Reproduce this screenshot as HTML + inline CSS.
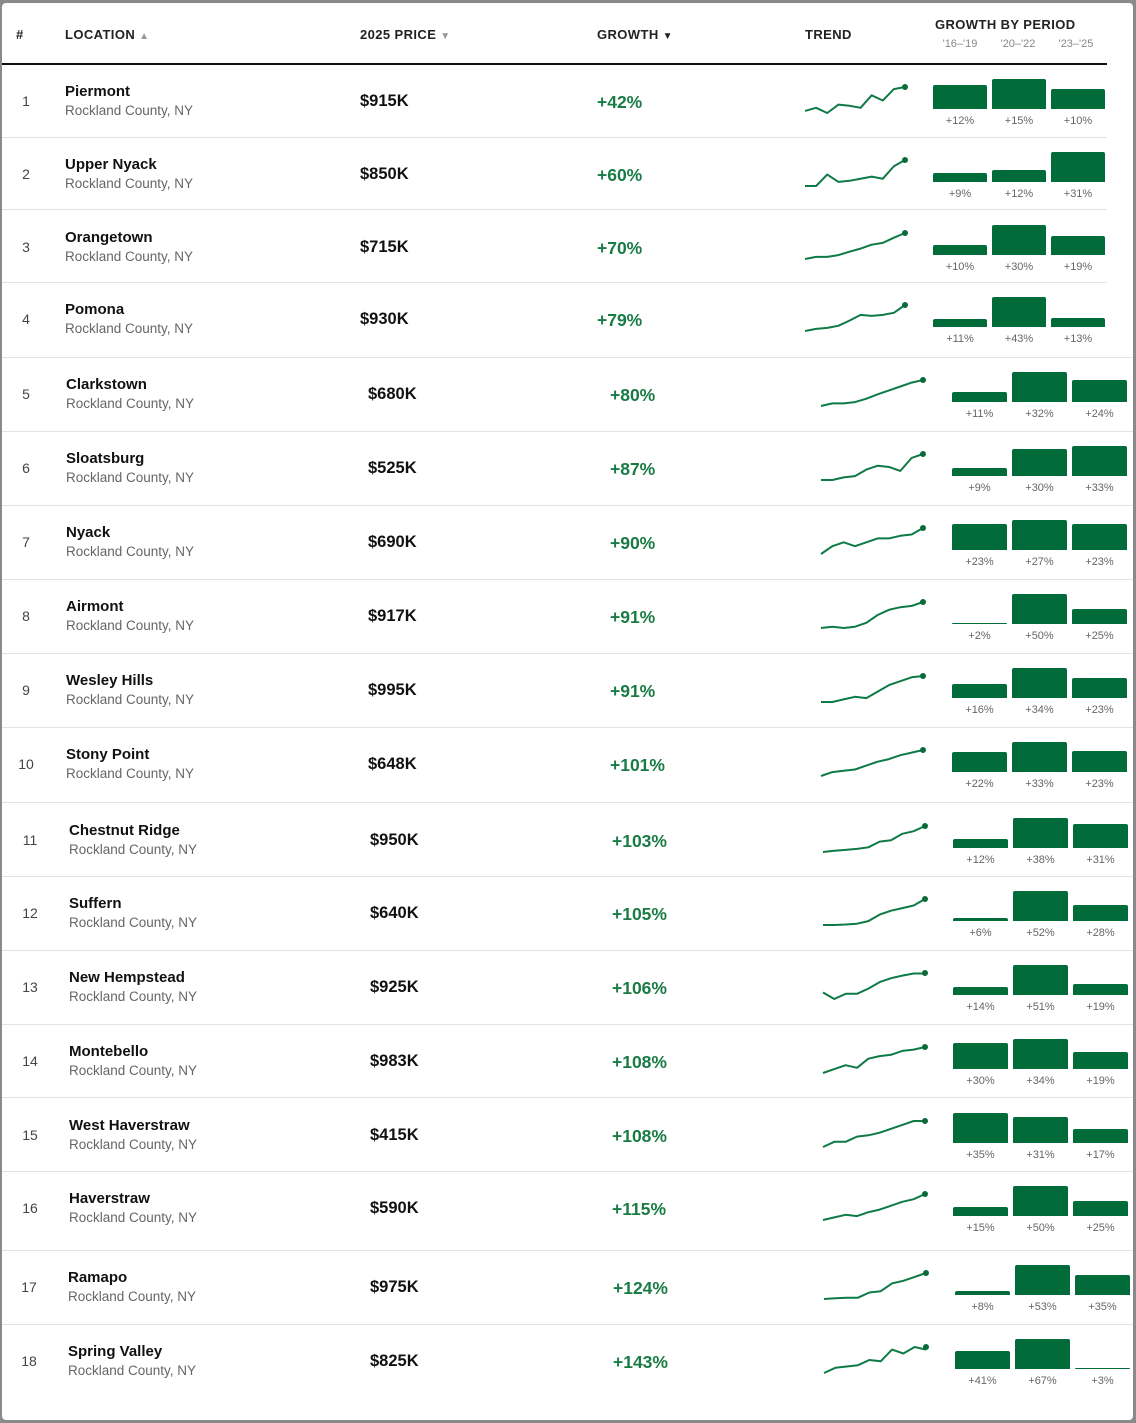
<!DOCTYPE html>
<html><head><meta charset="utf-8"><style>
*{margin:0;padding:0;box-sizing:border-box}
body{width:1136px;height:1423px;background:#8a8a8a;font-family:"Liberation Sans",sans-serif;position:relative;overflow:hidden}
#card{position:absolute;left:2px;top:3px;width:1131px;height:1417px;background:#fff;border-radius:4px}
.h{position:absolute;font-size:13px;font-weight:700;color:#222;letter-spacing:.4px}
.hs{position:absolute;font-size:11px;color:#888;width:50px;text-align:center}
.line{position:absolute;height:1px;background:#e3e3e0}
.r{position:absolute;left:0;width:1136px;height:0}
.r>*{position:absolute}
.n{width:30px;text-align:center;top:0;font-size:14px;color:#444;margin-left:-15px;line-height:16px}
.nm{top:-9px;font-size:15px;font-weight:700;color:#111;line-height:18px;white-space:nowrap}
.sb{top:11px;font-size:13.5px;color:#666;line-height:16px;white-space:nowrap}
.p{top:0;font-size:16.5px;font-weight:700;color:#111;line-height:18px}
.gr{top:1px;font-size:17.5px;font-weight:700;color:#1a7c45;line-height:18px}
.sp{top:-5px;height:26px;overflow:visible}
.sp polyline{fill:none;stroke:#0e7a45;stroke-width:2;vector-effect:non-scaling-stroke;stroke-linejoin:round}
.dot{width:6px;height:6px;border-radius:50%;background:#0a6b3a;top:-8px}
.bars{top:-13px;height:30px;display:flex;align-items:flex-end;gap:5px}
.bars b{display:block;background:#026b3a;border-radius:2px 2px 0 0}
.bl{top:23px;display:flex;gap:5px;font-size:11px;color:#666}
.bl span{display:block;text-align:center}
.g1 .n{left:26px}.g1 .nm,.g1 .sb{left:65px}.g1 .p{left:360px}.g1 .gr{left:597px}.g1 .sp{left:805px;width:100px}.g1 .dot{left:902px}.g1 .bars,.g1 .bl{left:933px}.g1 .bars b,.g1 .bl span{width:54px}
.g2 .n{left:26px}.g2 .nm,.g2 .sb{left:66px}.g2 .p{left:368px}.g2 .gr{left:610px}.g2 .sp{left:821px;width:102px}.g2 .dot{left:920px}.g2 .bars,.g2 .bl{left:952px}.g2 .bars b,.g2 .bl span{width:55px}
.g3 .n{left:30px}.g3 .nm,.g3 .sb{left:69px}.g3 .p{left:370px}.g3 .gr{left:612px}.g3 .sp{left:823px;width:102px}.g3 .dot{left:922px}.g3 .bars,.g3 .bl{left:953px}.g3 .bars b,.g3 .bl span{width:55px}
.g4 .n{left:29px}.g4 .nm,.g4 .sb{left:68px}.g4 .p{left:370px}.g4 .gr{left:613px}.g4 .sp{left:824px;width:102px}.g4 .dot{left:923px}.g4 .bars,.g4 .bl{left:955px}.g4 .bars b,.g4 .bl span{width:55px}
</style></head><body>
<div id="card"></div>
<div class="h" style="left:16px;top:27px">#</div>
<div class="h" style="left:65px;top:27px">LOCATION <span style="color:#999;font-size:10px">▲</span></div>
<div class="h" style="left:360px;top:27px">2025 PRICE <span style="color:#999;font-size:10px">▼</span></div>
<div class="h" style="left:597px;top:27px">GROWTH <span style="font-size:10px">▼</span></div>
<div class="h" style="left:805px;top:27px">TREND</div>
<div class="h" style="left:935px;top:17px">GROWTH BY PERIOD</div>
<div class="hs" style="left:935px;top:38px">'16–'19</div>
<div class="hs" style="left:993px;top:38px">'20–'22</div>
<div class="hs" style="left:1051px;top:38px">'23–'25</div>
<div style="position:absolute;left:2px;top:63px;width:1105px;height:2px;background:#111"></div>

<div class="line" style="left:2px;top:137px;width:1105px"></div>
<div class="line" style="left:2px;top:209px;width:1105px"></div>
<div class="line" style="left:2px;top:282px;width:1105px"></div>
<div class="line" style="left:2px;top:357px;width:1131px"></div>
<div class="line" style="left:2px;top:431px;width:1131px"></div>
<div class="line" style="left:2px;top:505px;width:1131px"></div>
<div class="line" style="left:2px;top:579px;width:1131px"></div>
<div class="line" style="left:2px;top:653px;width:1131px"></div>
<div class="line" style="left:2px;top:727px;width:1131px"></div>
<div class="line" style="left:2px;top:802px;width:1131px"></div>
<div class="line" style="left:2px;top:876px;width:1131px"></div>
<div class="line" style="left:2px;top:950px;width:1131px"></div>
<div class="line" style="left:2px;top:1024px;width:1131px"></div>
<div class="line" style="left:2px;top:1097px;width:1131px"></div>
<div class="line" style="left:2px;top:1171px;width:1131px"></div>
<div class="line" style="left:2px;top:1250px;width:1131px"></div>
<div class="line" style="left:2px;top:1324px;width:1131px"></div>

<div class="r g1" style="top:92px"><span class="n" style="top:1px">1</span><span class="nm">Piermont</span><span class="sb">Rockland County, NY</span><span class="p">$915K</span><span class="gr">+42%</span>
<svg class="sp" viewBox="0 0 9 1" preserveAspectRatio="none"><polyline points="0,.92 1,.8 2,1 3,.68 4,.72 5,.8 6,.32 7,.52 8,.08 9,0"/></svg><i class="dot"></i>
<div class="bars"><b style="height:24px"></b><b style="height:30px"></b><b style="height:20px"></b></div><div class="bl"><span>+12%</span><span>+15%</span><span>+10%</span></div></div>

<div class="r g1" style="top:165px"><span class="n" style="top:1px">2</span><span class="nm">Upper Nyack</span><span class="sb">Rockland County, NY</span><span class="p">$850K</span><span class="gr">+60%</span>
<svg class="sp" viewBox="0 0 9 1" preserveAspectRatio="none"><polyline points="0,1 1,1 2,.56 3,.84 4,.8 5,.72 6,.64 7,.72 8,.24 9,0"/></svg><i class="dot"></i>
<div class="bars"><b style="height:9px"></b><b style="height:12px"></b><b style="height:30px"></b></div><div class="bl"><span>+9%</span><span>+12%</span><span>+31%</span></div></div>

<div class="r g1" style="top:238px"><span class="n" style="top:1px">3</span><span class="nm">Orangetown</span><span class="sb">Rockland County, NY</span><span class="p">$715K</span><span class="gr">+70%</span>
<svg class="sp" viewBox="0 0 9 1" preserveAspectRatio="none"><polyline points="0,1 1,.92 2,.92 3,.85 4,.72 5,.6 6,.45 7,.38 8,.18 9,0"/></svg><i class="dot"></i>
<div class="bars"><b style="height:10px"></b><b style="height:30px"></b><b style="height:19px"></b></div><div class="bl"><span>+10%</span><span>+30%</span><span>+19%</span></div></div>

<div class="r g1" style="top:310px"><span class="n" style="top:1px">4</span><span class="nm">Pomona</span><span class="sb">Rockland County, NY</span><span class="p">$930K</span><span class="gr">+79%</span>
<svg class="sp" viewBox="0 0 9 1" preserveAspectRatio="none"><polyline points="0,1 1,.92 2,.88 3,.8 4,.6 5,.38 6,.42 7,.38 8,.3 9,0"/></svg><i class="dot"></i>
<div class="bars"><b style="height:8px"></b><b style="height:30px"></b><b style="height:9px"></b></div><div class="bl"><span>+11%</span><span>+43%</span><span>+13%</span></div></div>

<div class="r g2" style="top:385px"><span class="n" style="top:1px">5</span><span class="nm">Clarkstown</span><span class="sb">Rockland County, NY</span><span class="p">$680K</span><span class="gr">+80%</span>
<svg class="sp" viewBox="0 0 9 1" preserveAspectRatio="none"><polyline points="0,1 1,.9 2,.9 3,.85 4,.72 5,.55 6,.4 7,.25 8,.1 9,0"/></svg><i class="dot"></i>
<div class="bars"><b style="height:10px"></b><b style="height:30px"></b><b style="height:22px"></b></div><div class="bl"><span>+11%</span><span>+32%</span><span>+24%</span></div></div>

<div class="r g2" style="top:459px"><span class="n" style="top:1px">6</span><span class="nm">Sloatsburg</span><span class="sb">Rockland County, NY</span><span class="p">$525K</span><span class="gr">+87%</span>
<svg class="sp" viewBox="0 0 9 1" preserveAspectRatio="none"><polyline points="0,1 1,1 2,.9 3,.85 4,.6 5,.45 6,.5 7,.65 8,.15 9,0"/></svg><i class="dot"></i>
<div class="bars"><b style="height:8px"></b><b style="height:27px"></b><b style="height:30px"></b></div><div class="bl"><span>+9%</span><span>+30%</span><span>+33%</span></div></div>

<div class="r g2" style="top:533px"><span class="n" style="top:1px">7</span><span class="nm">Nyack</span><span class="sb">Rockland County, NY</span><span class="p">$690K</span><span class="gr">+90%</span>
<svg class="sp" viewBox="0 0 9 1" preserveAspectRatio="none"><polyline points="0,1 1,.7 2,.55 3,.7 4,.55 5,.4 6,.4 7,.3 8,.25 9,0"/></svg><i class="dot"></i>
<div class="bars"><b style="height:26px"></b><b style="height:30px"></b><b style="height:26px"></b></div><div class="bl"><span>+23%</span><span>+27%</span><span>+23%</span></div></div>

<div class="r g2" style="top:607px"><span class="n" style="top:1px">8</span><span class="nm">Airmont</span><span class="sb">Rockland County, NY</span><span class="p">$917K</span><span class="gr">+91%</span>
<svg class="sp" viewBox="0 0 9 1" preserveAspectRatio="none"><polyline points="0,1 1,.95 2,1 3,.95 4,.8 5,.5 6,.3 7,.2 8,.15 9,0"/></svg><i class="dot"></i>
<div class="bars"><b style="height:1.5px"></b><b style="height:30px"></b><b style="height:15px"></b></div><div class="bl"><span>+2%</span><span>+50%</span><span>+25%</span></div></div>

<div class="r g2" style="top:681px"><span class="n" style="top:1px">9</span><span class="nm">Wesley Hills</span><span class="sb">Rockland County, NY</span><span class="p">$995K</span><span class="gr">+91%</span>
<svg class="sp" viewBox="0 0 9 1" preserveAspectRatio="none"><polyline points="0,1 1,1 2,.9 3,.8 4,.85 5,.6 6,.35 7,.2 8,.05 9,0"/></svg><i class="dot"></i>
<div class="bars"><b style="height:14px"></b><b style="height:30px"></b><b style="height:20px"></b></div><div class="bl"><span>+16%</span><span>+34%</span><span>+23%</span></div></div>

<div class="r g2" style="top:755px"><span class="n" style="top:1px">10</span><span class="nm">Stony Point</span><span class="sb">Rockland County, NY</span><span class="p">$648K</span><span class="gr">+101%</span>
<svg class="sp" viewBox="0 0 9 1" preserveAspectRatio="none"><polyline points="0,1 1,.85 2,.8 3,.75 4,.6 5,.45 6,.35 7,.2 8,.1 9,0"/></svg><i class="dot"></i>
<div class="bars"><b style="height:20px"></b><b style="height:30px"></b><b style="height:21px"></b></div><div class="bl"><span>+22%</span><span>+33%</span><span>+23%</span></div></div>

<div class="r g3" style="top:831px"><span class="n" style="top:1px">11</span><span class="nm">Chestnut Ridge</span><span class="sb">Rockland County, NY</span><span class="p">$950K</span><span class="gr">+103%</span>
<svg class="sp" viewBox="0 0 9 1" preserveAspectRatio="none"><polyline points="0,1 1,.95 2,.92 3,.88 4,.82 5,.6 6,.55 7,.3 8,.2 9,0"/></svg><i class="dot"></i>
<div class="bars"><b style="height:9.5px"></b><b style="height:30px"></b><b style="height:24.5px"></b></div><div class="bl"><span>+12%</span><span>+38%</span><span>+31%</span></div></div>

<div class="r g3" style="top:904px"><span class="n" style="top:1px">12</span><span class="nm">Suffern</span><span class="sb">Rockland County, NY</span><span class="p">$640K</span><span class="gr">+105%</span>
<svg class="sp" viewBox="0 0 9 1" preserveAspectRatio="none"><polyline points="0,1 1,1 2,.98 3,.95 4,.85 5,.6 6,.45 7,.35 8,.25 9,0"/></svg><i class="dot"></i>
<div class="bars"><b style="height:3.5px"></b><b style="height:30px"></b><b style="height:16px"></b></div><div class="bl"><span>+6%</span><span>+52%</span><span>+28%</span></div></div>

<div class="r g3" style="top:978px"><span class="n" style="top:1px">13</span><span class="nm">New Hempstead</span><span class="sb">Rockland County, NY</span><span class="p">$925K</span><span class="gr">+106%</span>
<svg class="sp" viewBox="0 0 9 1" preserveAspectRatio="none"><polyline points="0,.75 1,1 2,.8 3,.8 4,.6 5,.35 6,.2 7,.1 8,.02 9,.02"/></svg><i class="dot"></i>
<div class="bars"><b style="height:8px"></b><b style="height:30px"></b><b style="height:11px"></b></div><div class="bl"><span>+14%</span><span>+51%</span><span>+19%</span></div></div>

<div class="r g3" style="top:1052px"><span class="n" style="top:1px">14</span><span class="nm">Montebello</span><span class="sb">Rockland County, NY</span><span class="p">$983K</span><span class="gr">+108%</span>
<svg class="sp" viewBox="0 0 9 1" preserveAspectRatio="none"><polyline points="0,1 1,.85 2,.7 3,.8 4,.45 5,.35 6,.3 7,.15 8,.1 9,0"/></svg><i class="dot"></i>
<div class="bars"><b style="height:26.5px"></b><b style="height:30px"></b><b style="height:17px"></b></div><div class="bl"><span>+30%</span><span>+34%</span><span>+19%</span></div></div>

<div class="r g3" style="top:1126px"><span class="n" style="top:1px">15</span><span class="nm">West Haverstraw</span><span class="sb">Rockland County, NY</span><span class="p">$415K</span><span class="gr">+108%</span>
<svg class="sp" viewBox="0 0 9 1" preserveAspectRatio="none"><polyline points="0,1 1,.8 2,.8 3,.6 4,.55 5,.45 6,.3 7,.15 8,0 9,0"/></svg><i class="dot"></i>
<div class="bars"><b style="height:30px"></b><b style="height:26.5px"></b><b style="height:14.5px"></b></div><div class="bl"><span>+35%</span><span>+31%</span><span>+17%</span></div></div>

<div class="r g3" style="top:1199px"><span class="n" style="top:1px">16</span><span class="nm">Haverstraw</span><span class="sb">Rockland County, NY</span><span class="p">$590K</span><span class="gr">+115%</span>
<svg class="sp" viewBox="0 0 9 1" preserveAspectRatio="none"><polyline points="0,1 1,.9 2,.8 3,.85 4,.7 5,.6 6,.45 7,.3 8,.2 9,0"/></svg><i class="dot"></i>
<div class="bars"><b style="height:9px"></b><b style="height:30px"></b><b style="height:15px"></b></div><div class="bl"><span>+15%</span><span>+50%</span><span>+25%</span></div></div>

<div class="r g4" style="top:1278px"><span class="n" style="top:1px">17</span><span class="nm">Ramapo</span><span class="sb">Rockland County, NY</span><span class="p">$975K</span><span class="gr">+124%</span>
<svg class="sp" viewBox="0 0 9 1" preserveAspectRatio="none"><polyline points="0,1 1,.97 2,.95 3,.95 4,.75 5,.7 6,.4 7,.3 8,.15 9,0"/></svg><i class="dot"></i>
<div class="bars"><b style="height:4.5px"></b><b style="height:30px"></b><b style="height:20px"></b></div><div class="bl"><span>+8%</span><span>+53%</span><span>+35%</span></div></div>

<div class="r g4" style="top:1352px"><span class="n" style="top:1px">18</span><span class="nm">Spring Valley</span><span class="sb">Rockland County, NY</span><span class="p">$825K</span><span class="gr">+143%</span>
<svg class="sp" viewBox="0 0 9 1" preserveAspectRatio="none"><polyline points="0,1 1,.8 2,.75 3,.7 4,.5 5,.55 6,.1 7,.25 8,0 9,.1"/></svg><i class="dot"></i>
<div class="bars"><b style="height:18.5px"></b><b style="height:30px"></b><b style="height:1.5px"></b></div><div class="bl"><span>+41%</span><span>+67%</span><span>+3%</span></div></div>
</body></html>
